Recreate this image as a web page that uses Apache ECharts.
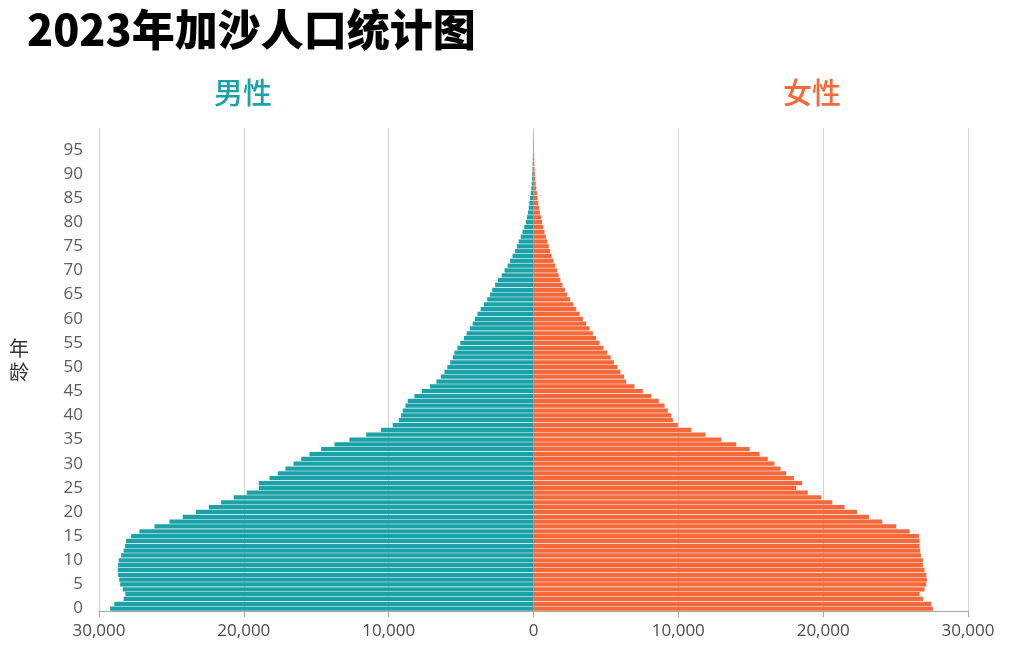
<!DOCTYPE html>
<html>
<head>
<meta charset="utf-8">
<script src="https://cdn.jsdelivr.net/npm/echarts@6/dist/echarts.min.js"></script>
<style>
html,body{margin:0;padding:0;background:#fff;}
#chart{width:1009px;height:663px;}
</style>
</head>
<body>
<div id="chart"></div>
<script>
// Ages 0..99
const ages = Array.from({length: 100}, (_, i) => String(i));

const male = [
  29230, 28940, 28300, 28180, 28360, 28540, 28600, 28680, 28700, 28680,
  28640, 28470, 28300, 28200, 28130, 27780, 27210, 26170, 25140, 24220,
  23300, 22420, 21570, 20700, 19800, 18950, 18970, 18230, 17660, 17130,
  16570, 16040, 15470, 14660, 13740, 12710, 11550, 10520, 9720, 9300,
  9140, 9030, 8840, 8680, 8220, 7700, 7150, 6700, 6400, 6150,
  5950, 5750, 5570, 5460, 5250, 5050, 4800, 4620, 4400, 4200,
  4050, 3870, 3650, 3420, 3200, 3000, 2850, 2650, 2450, 2200,
  2000, 1790, 1620, 1450, 1270, 1150, 1020, 880, 760, 640,
  520, 450, 380, 330, 290, 240, 195, 150, 125, 100,
  85, 70, 60, 50, 40, 32, 25, 18, 12, 8
];

const female = [
  27580, 27460, 26890, 26660, 27000, 27120, 27160, 27120, 27000, 26890,
  26890, 26750, 26700, 26660, 26660, 26620, 25970, 25050, 24080, 23160,
  22330, 21480, 20630, 19870, 18940, 18140, 18550, 17980, 17450, 17060,
  16640, 16180, 15610, 14920, 14000, 12960, 11880, 10890, 9970, 9620,
  9510, 9280, 9050, 8650, 8130, 7550, 6975, 6400, 6250, 6000,
  5800, 5550, 5330, 5090, 4830, 4560, 4330, 4100, 3870, 3640,
  3410, 3180, 2950, 2760, 2530, 2330, 2170, 2000, 1860, 1740,
  1620, 1490, 1370, 1260, 1150, 1050, 950, 850, 760, 670,
  590, 520, 450, 390, 330, 280, 235, 190, 155, 125,
  100, 80, 65, 52, 42, 33, 26, 19, 13, 8
];

const xTicks = [-30000, -20000, -10000, 0, 10000, 20000, 30000];
const titleText = '2023年加沙人口统计图';
const maleLabel = '男性';
const femaleLabel = '女性';
const yName = '年\n龄';

const TEAL = '#1aa2a8';
const ORANGE = '#f4683a';
const labelFont = '"Open Sans", "Noto Sans", sans-serif';

const chart = echarts.init(document.getElementById('chart'), null, {renderer: 'canvas'});
chart.setOption({
  animation: false,
  backgroundColor: '#ffffff',
  grid: {left: 99, right: 41, top: 128, bottom: 52, containLabel: false},
  xAxis: {
    type: 'value',
    min: xTicks[0],
    max: xTicks[xTicks.length - 1],
    interval: 10000,
    axisLine: {show: true, lineStyle: {color: '#a8a8a8', width: 1}},
    axisTick: {show: true, length: 6, lineStyle: {color: '#a8a8a8'}},
    splitLine: {show: true, lineStyle: {color: '#d4d4d4', width: 1}},
    axisLabel: {
      color: '#504a4a', fontSize: 17, fontFamily: labelFont, margin: 12,
      formatter: v => Math.abs(v).toLocaleString('en-US')
    }
  },
  yAxis: {
    type: 'category',
    data: ages,
    axisLine: {show: false, onZero: false},
    axisTick: {show: false},
    splitLine: {show: false},
    axisLabel: {
      interval: 4, color: '#625a5a', fontSize: 17, fontFamily: labelFont, margin: 16
    }
  },
  series: [
    {
      name: maleLabel, type: 'bar',
      data: male.map(v => -v),
      barCategoryGap: '12%', barGap: '-100%',
      itemStyle: {color: TEAL},
      silent: true
    },
    {
      name: femaleLabel, type: 'bar',
      data: female,
      barCategoryGap: '12%', barGap: '-100%',
      itemStyle: {color: ORANGE},
      silent: true
    }
  ],
  graphic: [
    {type: 'text', left: 27, top: 8, style: {text: titleText, fill: '#000', font: '900 43px "Noto Sans CJK SC", sans-serif'}},
    {type: 'text', x: 243, y: 93, style: {text: maleLabel, fill: TEAL, font: '500 29px "Noto Sans CJK SC", sans-serif', align: 'center', verticalAlign: 'middle'}},
    {type: 'text', x: 812, y: 93, style: {text: femaleLabel, fill: ORANGE, font: '500 29px "Noto Sans CJK SC", sans-serif', align: 'center', verticalAlign: 'middle'}},
    {type: 'text', x: 19, y: 360, style: {text: yName, fill: '#333', font: '400 20px "Noto Sans CJK SC", sans-serif', align: 'center', verticalAlign: 'middle', lineHeight: 24}}
  ]
});
</script>
</body>
</html>
